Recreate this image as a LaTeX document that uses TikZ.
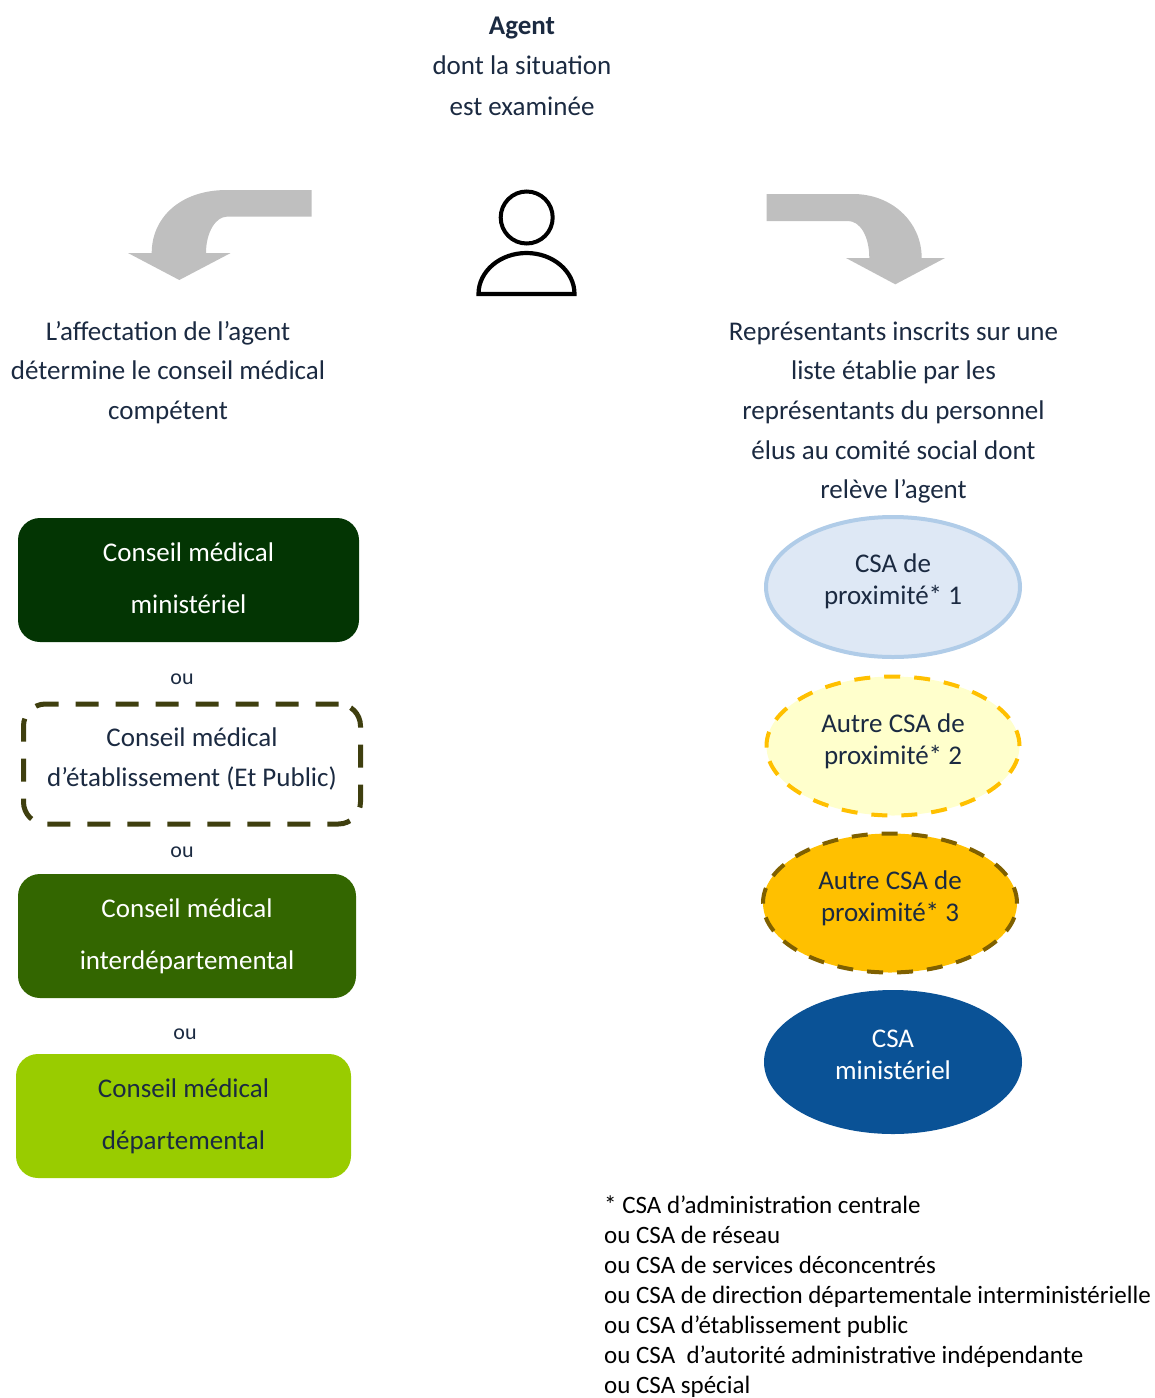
\documentclass[tikz,border=0pt]{standalone}
\usepackage{fontspec}
\setmainfont{Carlito}
\usetikzlibrary{shapes.geometric}
\definecolor{inktext}{HTML}{1B2A41}
\definecolor{arrowgrey}{HTML}{BFBFBF}
\newcommand{\liftlines}[2]{\raisebox{0pt}[\height][\dimexpr\depth+#1pt+#1pt\relax]{\begin{tabular}{@{}c@{}}#2\end{tabular}}}
\tikzset{
  x=1pt,y=-1pt,
  label35/.style={inner sep=0pt,align=center,text=inktext,font=\fontsize{27}{39.7}\selectfont},
  ornode/.style={inner sep=0pt,text=inktext,font=\fontsize{22}{25}\selectfont},
  rbox/.style={rectangle,rounded corners=22pt,inner sep=0pt,align=center,font=\fontsize{27}{52}\selectfont},
  oval/.style={ellipse,inner sep=0pt,align=center,text=inktext,font=\fontsize{27}{32.5}\selectfont},
  bentarrow/.style={fill=arrowgrey,draw=none},
}
\begin{document}
\begin{tikzpicture}
\useasboundingbox (0,0) rectangle (1155,1398);
\node[label35,font=\fontsize{27}{40.5}\selectfont] (agent) at (522,66) {\textbf{Agent}\\dont la situation\\est examinée};
% arrows
\fill[bentarrow] (311.7,190) -- (226.7,190) .. controls (180,190) and (151.7,218) .. (151.7,253)
  -- (128,253) -- (179.3,280) -- (230.7,253) -- (206,253)
  .. controls (206,232) and (216,216.7) .. (226.7,216.7) -- (311.7,216.7) -- cycle;
\fill[bentarrow] (766.7,194) -- (853,194) .. controls (892,194) and (921.7,222) .. (921.7,258)
  -- (945,258) -- (895.3,284.3) -- (846,258) -- (869.3,258)
  .. controls (869.3,236) and (860,221) .. (848,221) -- (766.7,221) -- cycle;
% person
\draw[line width=4pt,black] (526.7,217.5) circle[radius=26];
\draw[line width=4.2pt,black,line join=miter] (478.5,294) arc[start angle=180,end angle=0,x radius=48,y radius=-41] -- cycle;
\node[label35] (left) at (168,372.5) {L’affectation de l’agent\\détermine le conseil médical\\compétent};
\node[label35] (right) at (893.5,412.5) {Représentants inscrits sur une\\liste établie par les\\représentants du personnel\\élus au comité social dont\\relève l’agent};
% left boxes
\node[rbox,fill={rgb,255:red,3;green,53;blue,3},text=white,minimum width=341pt,minimum height=124pt] (m) at (188.5,580) {\liftlines{3}{Conseil médical\\ministériel}};
\node[ornode] (o1) at (182,679) {ou};
\node[rbox,draw={rgb,255:red,63;green,63;blue,15},line width=5pt,dash pattern=on 23pt off 17pt,text=inktext,minimum width=337pt,minimum height=120pt,font=\fontsize{27}{40}\selectfont] (e) at (192,764) {\liftlines{6}{Conseil médical\\d’établissement (Et Public)}};
\node[ornode] (o2) at (182,852) {ou};
\node[rbox,fill={rgb,255:red,51;green,102;blue,0},text=white,minimum width=338pt,minimum height=124pt] (i) at (187,936) {Conseil médical\\interdépartemental};
\node[ornode] (o3) at (185,1034) {ou};
\node[rbox,fill={rgb,255:red,153;green,204;blue,0},text=inktext,minimum width=335pt,minimum height=124pt] (d) at (183.5,1116) {Conseil médical\\départemental};
% ellipses
\node[oval,fill={rgb,255:red,222;green,232;blue,245},draw={rgb,255:red,176;green,204;blue,232},line width=4pt,minimum width=254pt,minimum height=140pt] (c1) at (893,587) {\liftlines{5}{CSA de\\proximité* 1}};
\node[oval,fill={rgb,255:red,255;green,255;blue,204},draw={rgb,255:red,255;green,192;blue,0},line width=4pt,dash pattern=on 16pt off 14pt,minimum width=253pt,minimum height=139pt] (c2) at (893,746) {\liftlines{4}{Autre CSA de\\proximité* 2}};
\node[oval,fill={rgb,255:red,255;green,192;blue,0},draw={rgb,255:red,127;green,96;blue,0},line width=4pt,dash pattern=on 16pt off 14pt,minimum width=254pt,minimum height=139pt] (c3) at (890,903) {\liftlines{4}{Autre CSA de\\proximité* 3}};
\node[oval,fill={rgb,255:red,10;green,82;blue,150},text=white,minimum width=258pt,minimum height=144pt] (c4) at (893,1062) {\liftlines{5}{CSA\\ministériel}};
% footnote
\node[inner sep=0pt,anchor=north west,align=left,text=black,font=\fontsize{25}{30}\selectfont] (note) at (604,1195.5) {* CSA d’administration centrale\\ou CSA de réseau\\ou CSA de services déconcentrés\\ou CSA de direction départementale interministérielle\\ou CSA d’établissement public\\ou CSA~ d’autorité administrative indépendante\\ou CSA spécial};
\end{tikzpicture}
\end{document}
